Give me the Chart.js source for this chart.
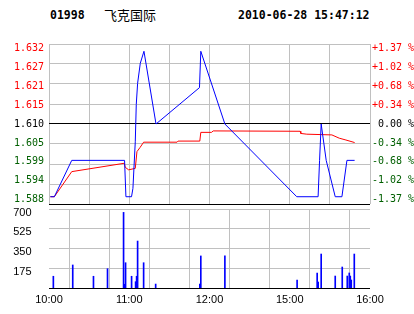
<!DOCTYPE html>
<html>
<head>
<meta charset="utf-8">
<script src="https://cdn.jsdelivr.net/npm/chart.js@4"></script>
<style>
  body { margin: 0; background: #fff; width: 414px; height: 314px; position: relative; overflow: hidden; }
  .hd { position: absolute; top: 8px; font: bold 11.5px "DejaVu Sans Mono", monospace; color: #000; white-space: pre; }
  #name { font: 13px "Noto Sans CJK SC", sans-serif; top: 5px; }
  canvas { position: absolute; left: 0; }
</style>
</head>
<body>
<div class="hd" style="left:50px">01998</div>
<div class="hd" id="name" style="left:104px">飞克国际</div>
<div class="hd" style="left:238px">2010-06-28 15:47:12</div>
<canvas id="priceChart" width="414" height="215" style="top:0"></canvas>
<canvas id="volumeChart" width="414" height="129" style="top:185px"></canvas>
<script>
// minutes of trading since 10:00 (lunch break removed)
const xTicks = [0, 30, 60, 90, 120, 150, 180, 210, 240];
const xLabels = ['10:00', '', '11:00', '', '12:00', '', '15:00', '', '16:00'];

// price axis: grid lines, and where the labels sit (slightly inside the grid)
const priceGrid = [1.588, 1.5935, 1.599, 1.6045, 1.610, 1.6155, 1.621, 1.6265, 1.632];
const priceLabelPos = [1.5892, 1.5944, 1.5996, 1.6048, 1.6100, 1.6152, 1.6204, 1.6256, 1.6308];
const priceLabels = ['1.588', '1.594', '1.599', '1.605', '1.610', '1.615', '1.621', '1.627', '1.632'];
const pctLabels = ['-1.37 %', '-1.02 %', '-0.68 %', '-0.34 %', ' 0.00 %', '+0.34 %', '+0.68 %', '+1.02 %', '+1.37 %'];

// price line
const priceTimes = [1, 4, 17, 56.5, 57.5, 61.7, 62.75, 64.5, 65.25, 66.25, 68.25, 71, 80, 112.5, 113.5, 131.5, 185.25, 201.2, 202.3, 203.5, 207.25, 214, 219, 222.75, 228.5];
const prices = [1.590, 1.590, 1.600, 1.600, 1.590, 1.590, 1.5923, 1.6051, 1.6154, 1.6212, 1.6267, 1.630, 1.610, 1.620, 1.630, 1.610, 1.590, 1.590, 1.600, 1.610, 1.600, 1.590, 1.590, 1.600, 1.600];

// average price line
const avgTimes = [1, 4, 17, 56.25, 57, 59.5, 64.5, 65.75, 68, 70.75, 95.75, 96.5, 112.75, 113.5, 121.5, 122.75, 187.75, 188.25, 192.75, 211.5, 217, 222, 228.5];
const avgPrices = [1.590, 1.590, 1.5969, 1.5992, 1.5981, 1.5974, 1.5978, 1.6024, 1.6035, 1.605, 1.605, 1.6053, 1.6053, 1.6077, 1.6077, 1.6081, 1.6080, 1.6074, 1.6072, 1.6070, 1.6061, 1.6056, 1.6049];

// volume
const volGrid = [0, 175, 350, 525, 700];
const volLabelPos = [144, 319, 494, 669];
const volLabels = ['175', '350', '525', '700'];
const volTimes = [3.25, 17.75, 33.25, 43.75, 55.75, 56.5, 57.25, 61.75, 64.75, 65.5, 66.25, 70.75, 79.75, 112.75, 113.5, 131.5, 185.5, 200.5, 201.25, 203.5, 214, 219.25, 223, 224.5, 225.25, 226, 228.25];
const volumes = [104, 204, 104, 171, 670, 33, 224, 104, 56, 104, 416, 224, 35, 35, 284, 284, 71, 133, 53, 301, 106, 186, 106, 133, 106, 71, 301];

const GRID = '#c0c0c0';
const RED = '#ff0000';
const GREEN = '#005f00';
const monoFont = { family: '"DejaVu Sans Mono", monospace', size: 10 };
const sansFont = { family: '"Liberation Sans", Arial, sans-serif', size: 11 };

function pts(xs, ys) {
  return xs.map((x, i) => ({ x: x, y: ys[i] }));
}
function setTicks(values) {
  return s => { s.ticks = values.map(v => ({ value: v })); };
}
function priceColor(ctx) {
  if (ctx.index === 4) return '#000';
  return ctx.index < 4 ? GREEN : RED;
}

const priceChart = new Chart(document.getElementById('priceChart'), {
  type: 'line',
  data: {
    datasets: [{
      data: pts(priceTimes, prices),
      borderColor: '#0000ff',
      borderWidth: 1,
      pointRadius: 0,
      tension: 0
    }, {
      data: pts(avgTimes, avgPrices),
      borderColor: RED,
      borderWidth: 1,
      pointRadius: 0,
      tension: 0
    }]
  },
  options: {
    responsive: false,
    animation: false,
    devicePixelRatio: 1,
    layout: { padding: { top: 44, bottom: 0 } },
    plugins: { legend: { display: false }, tooltip: { enabled: false } },
    scales: {
      x: {
        type: 'linear',
        min: 0,
        max: 240,
        afterBuildTicks: setTicks(xTicks),
        afterFit: s => { s.height = 0; },
        ticks: { display: false },
        grid: { color: GRID, drawTicks: false },
        border: { display: false }
      },
      y: {
        position: 'left',
        min: 1.588,
        max: 1.632,
        afterBuildTicks: setTicks(priceLabelPos),
        afterFit: s => { s.width = 49; },
        ticks: {
          callback: (v, i) => priceLabels[i],
          color: priceColor,
          font: monoFont,
          padding: 5,
          autoSkip: false
        },
        grid: { display: false, drawTicks: false },
        border: { display: false }
      },
      yGrid: {
        position: 'left',
        min: 1.588,
        max: 1.632,
        afterBuildTicks: setTicks(priceGrid),
        afterFit: s => { s.width = 0; },
        ticks: { display: false },
        grid: {
          color: c => (c.index === 0 || c.index === 4) ? '#000' : GRID,
          drawTicks: false
        },
        border: { display: false }
      },
      y1: {
        position: 'right',
        min: 1.588,
        max: 1.632,
        afterBuildTicks: setTicks(priceLabelPos),
        afterFit: s => { s.width = 44; },
        ticks: {
          callback: (v, i) => pctLabels[i],
          color: priceColor,
          font: monoFont,
          padding: 2,
          autoSkip: false
        },
        grid: { display: false, drawTicks: false },
        border: { display: false }
      }
    }
  }
});

const volumeChart = new Chart(document.getElementById('volumeChart'), {
  type: 'bar',
  data: {
    datasets: [{
      data: pts(volTimes, volumes),
      backgroundColor: '#0000ff',
      barThickness: 1
    }]
  },
  options: {
    responsive: false,
    animation: false,
    devicePixelRatio: 1,
    layout: { padding: { top: 0, right: 44 } },
    plugins: { legend: { display: false }, tooltip: { enabled: false } },
    scales: {
      x: {
        type: 'linear',
        offset: false,
        min: 0,
        max: 240,
        afterBuildTicks: setTicks(xTicks),
        afterFit: s => { s.height = 26; },
        ticks: {
          callback: (v, i) => xLabels[i],
          color: '#000',
          font: sansFont,
          padding: 5,
          maxRotation: 0,
          autoSkip: false
        },
        grid: { color: GRID, drawTicks: false },
        border: { display: false }
      },
      y: {
        min: 0,
        max: 700,
        afterBuildTicks: setTicks(volLabelPos),
        afterFit: s => { s.width = 49; },
        ticks: {
          callback: (v, i) => volLabels[i],
          color: '#000',
          font: sansFont,
          padding: 17.4,
          autoSkip: false
        },
        grid: { display: false, drawTicks: false },
        border: { display: false }
      },
      yGrid: {
        min: 0,
        max: 700,
        afterBuildTicks: setTicks(volGrid),
        afterFit: s => { s.width = 0; },
        ticks: { display: false },
        grid: {
          color: c => c.index === 0 ? '#000' : GRID,
          drawTicks: false
        },
        border: { display: false }
      }
    }
  }
});
</script>
</body>
</html>
